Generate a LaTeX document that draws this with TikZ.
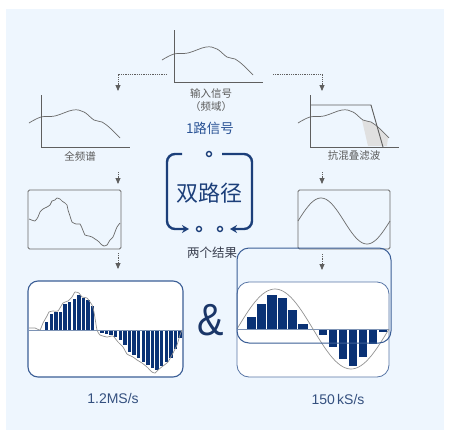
\documentclass[tikz,border=0pt]{standalone}
\usepackage{fontspec}
\setmainfont{Liberation Sans}
\newfontfamily\cjk{Noto Sans CJK SC}
\usetikzlibrary{arrows.meta}
\definecolor{bgblue}{HTML}{EEF6FE}
\definecolor{navy}{HTML}{0A3275}
\definecolor{ampcol}{HTML}{1A3668}
\definecolor{brk}{HTML}{1C3F7A}
\definecolor{boxln}{HTML}{3B5E96}
\definecolor{baseln}{HTML}{7D93B5}
\definecolor{lbl}{HTML}{5A5A5A}
\definecolor{curv}{HTML}{6A6A6A}
\definecolor{blutxt}{HTML}{2A5395}
\definecolor{restxt}{HTML}{34507F}
\definecolor{twotxt}{HTML}{3A4050}
\definecolor{aafshade}{HTML}{E0E0E0}
\tikzset{
  axisln/.style={draw=curv!90!black, line width=0.9pt},
  curveln/.style={draw=curv, line width=0.7pt},
  plotbox/.style={draw=curv, line width=0.8pt, rounded corners=1.5pt},
  dotarrow/.style={draw=gray!85, dash pattern=on 1pt off 0.8pt, line width=0.9pt, -{Triangle[width=5pt,length=6pt,fill=curv!90!black]}, curv!90!black},
  bar/.style={fill=navy},
  resbox/.style={draw=boxln, line width=1.1pt, rounded corners=11pt},
  brack/.style={draw=brk, line width=2.4pt, rounded corners=8pt},
  ring/.style={draw=brk, line width=1.4pt, fill=white, circle, inner sep=0pt, minimum size=5pt},
  smalllbl/.style={text=lbl, font=\cjk\fontsize{10.5}{12}\selectfont, inner sep=0pt},
}
\def\speccurve{plot[smooth, tension=0.6] coordinates {(162,60) (174,54) (188,53) (206,47) (217,49) (227,57) (235,59) (243,65) (253,75)}}
\begin{document}
\begin{tikzpicture}[x=1pt,y=-1pt]
\useasboundingbox (0,0) rectangle (451,440);
\fill[bgblue] (6,9) rectangle (444,430);

% ---- top input spectrum
\draw[curveln] \speccurve;
\draw[axisln] (174,30) -- (174,82) -- (263,82);
\node[smalllbl] (inlbl) at (211,94) {输入信号};
\node[smalllbl] (inlbl2) at (211,107) {（频域）};
\node[text=blutxt, font=\cjk\fontsize{13.5}{15}\selectfont, inner sep=0pt] (one) at (210,128) {1路信号};

% ---- left full spectrum
\begin{scope}[shift={(-133,63)}]
\draw[curveln] \speccurve;
\draw[axisln] (174,32) -- (174,84) -- (263,84);
\end{scope}
\node[smalllbl] (full) at (80,156) {全频谱};

% ---- right anti-alias filter
\begin{scope}[shift={(136,63)}]
\fill[aafshade] (226,57) .. controls (230,58) .. (235,59) -- (243,65) -- (252,74) -- (251,83) -- (232,83) -- cycle;
\draw[curveln] \speccurve;
\draw[axisln] (174,32) -- (174,84) -- (263,84);
\draw[axisln] (174,42) -- (235,42) -- (247,84);
\end{scope}
\node[smalllbl] (aaf) at (354,155) {抗混叠滤波};

% ---- dotted arrows from top
\coordinate (tl0) at (167,74);
\coordinate (tl1) at (118,91);
\coordinate (tr0) at (273,74);
\coordinate (tr1) at (322,91);
\draw[dotarrow] (tl0) -| (tl1);
\draw[dotarrow] (tr0) -| (tr1);

% ---- time-domain boxes
\node[plotbox, minimum width=93pt, minimum height=59pt, inner sep=0pt] (lbox) at (74.5,219.5) {};
\draw[curveln] plot[smooth, tension=0.3] coordinates {(29,219) (35,221) (38,217) (40,212) (43,209) (47,207) (50,205) (52,201) (55,200) (57,198) (60,199) (62,201) (65,203) (67,205) (68,210) (70,216) (72,222) (76,224) (80,224) (82,228) (85,235) (89,236) (92,237) (95,239) (98,241) (102,245) (104,246) (107,245) (110,240) (113,237) (115,232) (117,227) (120,223)};
\node[plotbox, minimum width=92pt, minimum height=59pt, inner sep=0pt] (rbox) at (344,219.5) {};
\draw[curveln] plot[domain=0:360, samples=60, smooth] ({298+\x/360*92},{221-23*sin(\x)});

\coordinate (la0) at (118,172);
\coordinate (la1) at (118,184);
\coordinate (ra0) at (322,172);
\coordinate (ra1) at (322,184);
\draw[dotarrow] (la0) -- (la1);
\draw[dotarrow] (ra0) -- (ra1);
\coordinate (lb0) at (118,253);
\coordinate (lb1) at (118,269);
\coordinate (rb0) at (322,254);
\coordinate (rb1) at (322,270);
\draw[dotarrow] (lb0) -- (lb1);
\draw[dotarrow] (rb0) -- (rb1);

% ---- center dual path
\draw[brack, -{Stealth[length=7pt,width=8pt]}] (182,154) -- (167,154) -- (167,229) -- (189,229);
\draw[brack, -{Stealth[length=7pt,width=8pt]}] (222,154) -- (252,154) -- (252,229) -- (230,229);
\node[ring] (d1) at (209,154) {};
\node[ring] (d2) at (199,229) {};
\node[ring] (d3) at (220,229) {};
\node[text=brk, font=\cjk\fontsize{22}{24}\selectfont, inner sep=0pt] (dual) at (209,193) {双路径};
\node[text=twotxt, font=\cjk\fontsize{12.5}{14}\selectfont, inner sep=0pt] (two) at (212,253) {两个结果};

% ---- left result
\draw[resbox, fill=white, rounded corners=10pt] (28,281) rectangle (183,377);
\foreach \x/\y in {45/322, 49.6/314, 54.2/312, 58.8/312, 63.4/304, 68/302, 72.6/299, 77.2/295, 81.8/298, 86.4/300, 91/306,
  100.2/333, 104.8/334, 109.4/335, 114/337, 118.6/340, 123.2/345, 127.8/352, 132.4/355, 137/358, 141.6/362, 146.2/365, 150.8/368, 155.4/370, 160/366, 164.6/362, 169.2/358, 173.8/349, 178.4/338}
  \fill[bar] (\x,330) rectangle ({\x+3.3},\y);
\draw[baseln, line width=1pt] (28.5,330) -- (182.5,330);
\draw[draw=gray!85, line width=0.7pt] plot[smooth, tension=0.3] coordinates {(29,328) (35,328) (40,330) (43,323) (47,316) (49,312) (53,311) (58,311) (63,303) (68,301) (72,297) (75,292) (79,293) (82,297) (87,298) (92,305) (94,312) (97,330) (100,335) (107,337) (113,336) (118,342) (123,347) (127,354) (133,357) (137,360) (142,363) (147,367) (152,372) (155,373) (158,370) (163,366) (168,362) (173,353) (177,345) (180,335) (182,330)};

% ---- right result
\draw[draw=boxln!85, line width=0.8pt, fill=white, rounded corners=12pt] (237,282) rectangle (389,377);
\foreach \a/\b/\y in {247/256/317, 257/266/304, 267/277/295, 278/287/298, 288/297/310, 298/308/324,
  319/327/335, 329/337/347, 339/347/359, 349/357/366, 359/367/357, 369/377/344, 379/387/332}
  \fill[bar] (\a,329) rectangle (\b,\y);
\draw[baseln, line width=1pt] (237.5,329) -- (389,329);
\draw[draw=gray!85, line width=0.7pt] plot[domain=0:360, samples=60, smooth] ({237+\x/360*152},{329-40*sin(\x)});
\draw[resbox, line width=1pt, rounded corners=12pt] (237,248) rectangle (391,343);

% ---- ampersand and rates
\node[text=ampcol, font=\fontsize{45}{47}\selectfont, inner sep=0pt, xscale=0.88] (amp) at (211,320) {\&};
\node[text=restxt, font=\fontsize{14}{16}\selectfont, inner sep=0pt] (r1) at (113,398) {1.2MS/s};
\node[text=restxt, font=\fontsize{14}{16}\selectfont, inner sep=0pt] (r2) at (338,399) {150\,kS/s};
\end{tikzpicture}
\end{document}
